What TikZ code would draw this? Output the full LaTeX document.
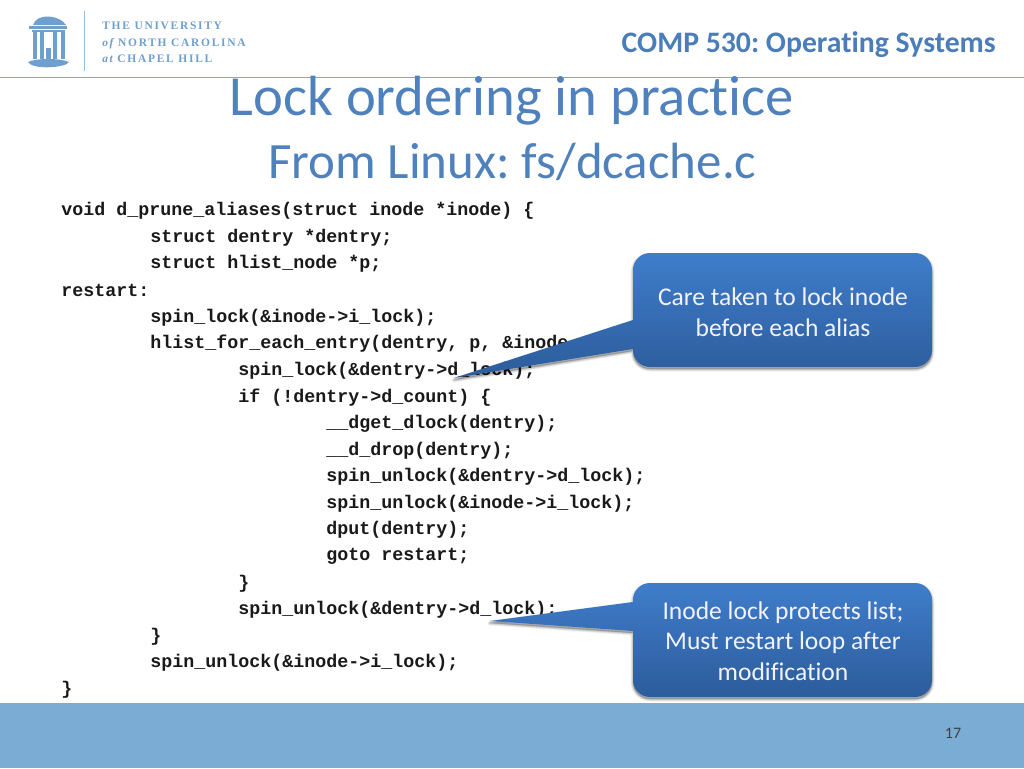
\documentclass[tikz,border=0pt]{standalone}
\usepackage{fontspec}
\setmainfont{Carlito}[Ligatures=NoCommon]
\newfontfamily\codefont{Liberation Mono}[BoldFont={Liberation Mono Bold}]
\newfontfamily\logofont{Liberation Serif}[LetterSpace=15]
\usetikzlibrary{calc}
\definecolor{titleblue}{HTML}{4F81BD}
\definecolor{headblue}{HTML}{4A7DBA}
\definecolor{bandblue}{HTML}{7BACD3}
\definecolor{logoblue}{HTML}{6F9FCF}
\definecolor{calltop}{HTML}{3F7DCB}
\definecolor{callbot}{HTML}{2C5C9B}
\frenchspacing
\tikzset{
  codeline/.style={anchor=west,inner sep=0pt,font=\codefont\bfseries\fontsize{13.75}{14}\selectfont,text=black!90,yshift=-0.75pt},
  calltext/.style={align=center,text=white!95!blue,inner sep=0pt,font=\fontsize{19.15}{23}\selectfont},
  callfill/.style={top color=calltop,bottom color=callbot,draw=none},
  logotext/.style={anchor=base west,inner sep=0pt,text=logoblue,font=\logofont\bfseries\fontsize{8.6}{9}\selectfont},
  logoshape/.style={fill=logoblue,draw=none}
}
\newcommand{\boxpathA}{(633,349) -- (633,350) .. controls (633,359.4) and (640.6,367) .. (650,367) -- (915,367) .. controls (924.4,367) and (932,359.4) .. (932,350) -- (932,270) .. controls (932,260.6) and (924.4,253) .. (915,253) -- (650,253) .. controls (640.6,253) and (633,260.6) .. (633,270) -- (633,320) -- (454,378) -- cycle}
\newcommand{\boxpathB}{(633,631) -- (633,680) .. controls (633,689.4) and (640.6,697) .. (650,697) -- (915,697) .. controls (924.4,697) and (932,689.4) .. (932,680) -- (932,600) .. controls (932,590.6) and (924.4,583) .. (915,583) -- (650,583) .. controls (640.6,583) and (633,590.6) .. (633,600) -- (633,602) -- (490,621) -- cycle}
\begin{document}
\begin{tikzpicture}[x=0.75pt,y=-0.75pt]
\useasboundingbox (0,0) rectangle (1024,768);
\fill[white] (0,0) rectangle (1024,768);
% bands
\fill[bandblue] (0,703) rectangle (1024,768);
\fill[bandblue] (0,76.7) rectangle (1024,78.3);
% logo
\draw[logoblue!70,line width=0.6pt] (84,11) -- (84,71);
\fill[logoshape] (33,25) .. controls (35,19) and (41,16.5) .. (47,16.5) .. controls (55,16.5) and (63,20) .. (66,25) -- cycle;
\fill[logoshape] (29,25.5) rectangle (67,28.5);
\fill[logoshape] (32,29.5) rectangle (65,32);
\fill[logoshape] (32.5,32) rectangle (36.5,59);
\fill[logoshape] (40,32) rectangle (43.5,59);
\fill[logoshape] (52.5,32) rectangle (56.5,59);
\fill[logoshape] (61,32) rectangle (65,59);
\fill[logoshape] (46,48) rectangle (50.5,59);
\fill[logoshape] (28,62) .. controls (36,58) and (60,58) .. (69,62) .. controls (66,68) and (32,70) .. (28,62) -- cycle;
\node[logotext] (logoa) at (102,29) {THE UNIVERSITY};
\node[logotext] (logob) at (102,46) {{\logofont\itshape of} NORTH CAROLINA};
\node[logotext] (logoc) at (102,62) {{\logofont\itshape at} CHAPEL HILL};
% titles
\node[anchor=base east,inner sep=0pt,text=headblue,font=\bfseries\fontsize{22.3}{24}\selectfont] (head) at (996,52) {COMP 530: Operating Systems};
\node[anchor=base,inner sep=0pt,text=titleblue,font=\fontsize{42.5}{48}\selectfont] (title) at (512,115) {Lock ordering in practice};
\node[anchor=base,inner sep=0pt,text=titleblue,font=\fontsize{38.2}{44}\selectfont] (subtitle) at (512.5,178) {From Linux: fs/dcache.c};
% code
\node[codeline] (c1) at (61,210) {void d\_prune\_aliases(struct inode *inode) \{};
\node[codeline] (c2) at (150,236.6) {struct dentry *dentry;};
\node[codeline] (c3) at (150,263.2) {struct hlist\_node *p;};
\node[codeline] (c4) at (61,289.8) {restart:};
\node[codeline] (c5) at (150,316.4) {spin\_lock(\&inode->i\_lock);};
\node[codeline] (c6) at (150,343) {hlist\_for\_each\_entry(dentry, p, \&inode->i\_};
\node[codeline] (c7) at (238,369.6) {spin\_lock(\&dentry->d\_lock);};
\node[codeline] (c8) at (238,396.2) {if (!dentry->d\_count) \{};
\node[codeline] (c9) at (326,422.8) {\_\_dget\_dlock(dentry);};
\node[codeline] (c10) at (326,449.4) {\_\_d\_drop(dentry);};
\node[codeline] (c11) at (326,476) {spin\_unlock(\&dentry->d\_lock);};
\node[codeline] (c12) at (326,502.6) {spin\_unlock(\&inode->i\_lock);};
\node[codeline] (c13) at (326,529.2) {dput(dentry);};
\node[codeline] (c14) at (326,555.8) {goto restart;};
\node[codeline] (c15) at (238,582.4) {\}};
\node[codeline] (c16) at (238,609) {spin\_unlock(\&dentry->d\_lock);};
\node[codeline] (c17) at (150,635.6) {\}};
\node[codeline] (c18) at (150,662.2) {spin\_unlock(\&inode->i\_lock);};
\node[codeline] (c19) at (61,688.8) {\}};
% shadows
\foreach \d/\o in {5/0.04,4/0.05,3/0.05,2/0.06,1/0.06}{
  \begin{scope}[shift={(0,2)}]
  \fill[black,opacity=\o,line join=round,draw=black,draw opacity=\o,line width=\d*0.75pt] \boxpathA;
  \fill[black,opacity=\o,line join=round,draw=black,draw opacity=\o,line width=\d*0.75pt] \boxpathB;
  \end{scope}
}
% callouts
\path[callfill] \boxpathA;
\path[callfill] \boxpathB;
\node[calltext] (note1) at (783,312) {Care taken to lock inode\\before each alias};
\node[calltext] (note2) at (783,641) {Inode lock protects list;\\Must restart loop after\\modification};
% page number
\node[inner sep=0pt,text=black!75,font=\fontsize{12}{14}\selectfont] (page) at (953,733) {17};
\end{tikzpicture}
\end{document}
